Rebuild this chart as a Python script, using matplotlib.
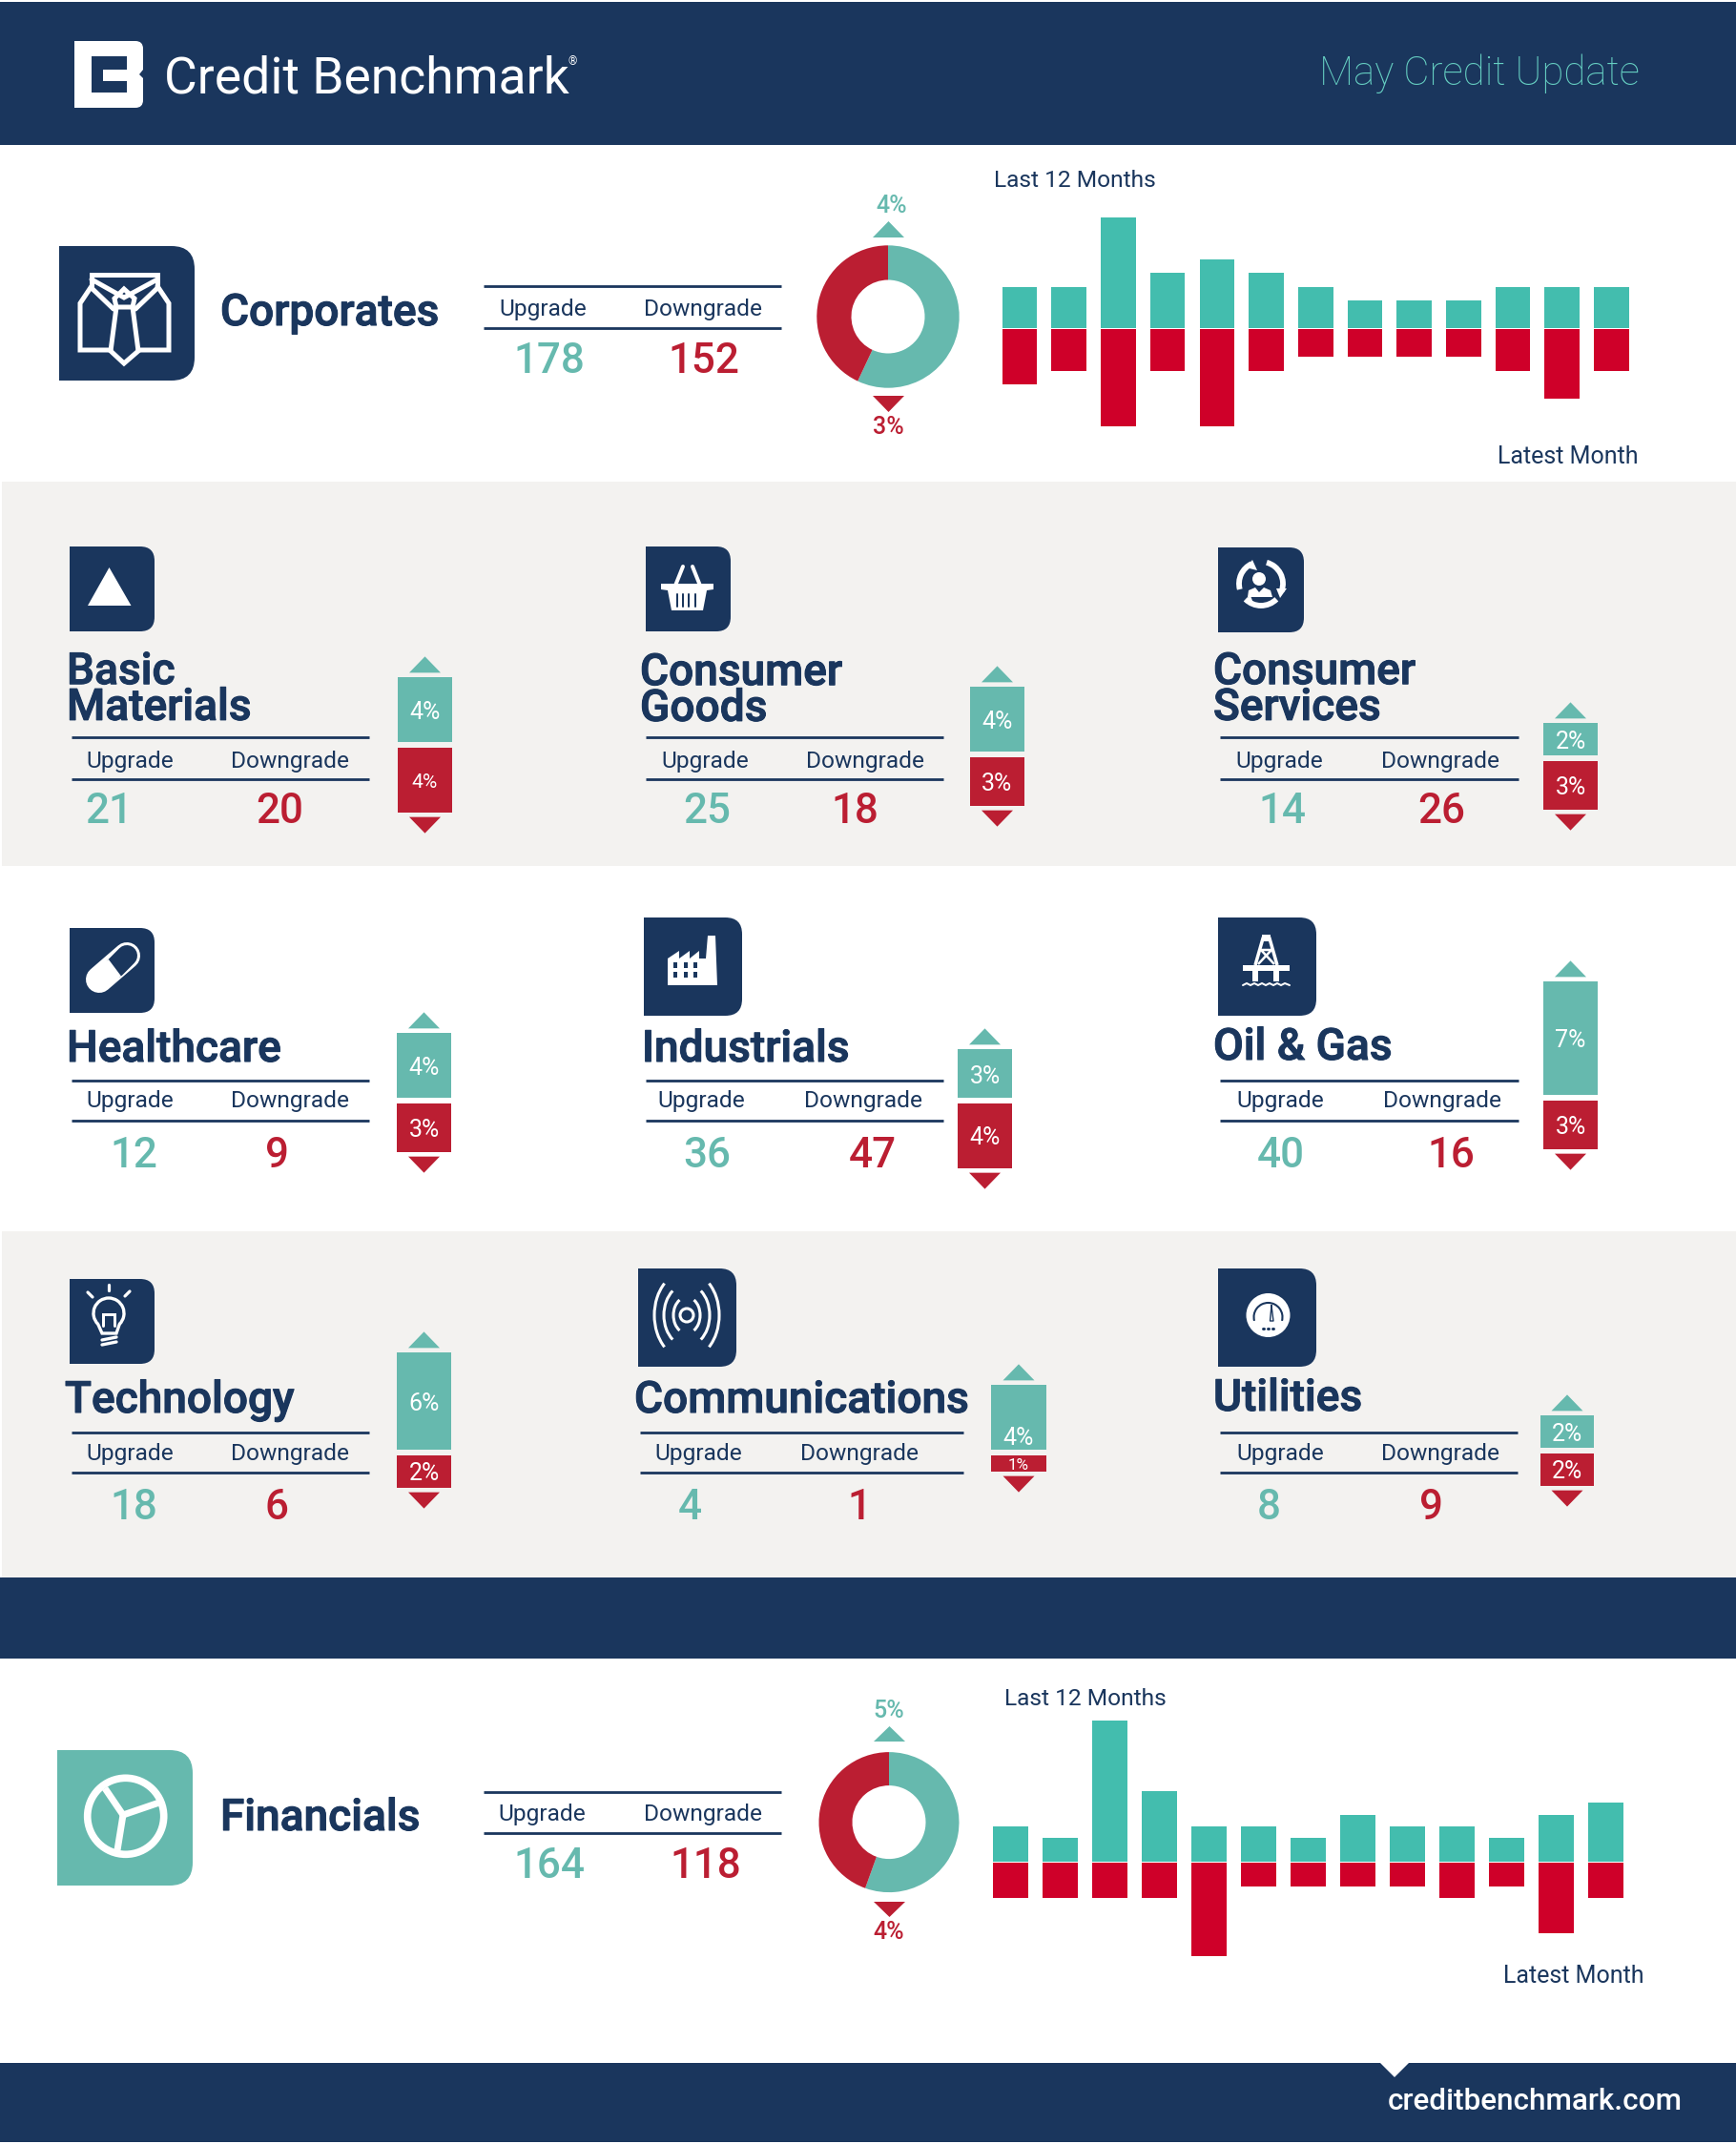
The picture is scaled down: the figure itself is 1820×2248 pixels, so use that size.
#!/usr/bin/env python

import matplotlib
matplotlib.use("Agg")
import matplotlib.pyplot as plt
import matplotlib.patheffects as pe
from matplotlib.patches import Rectangle, Polygon, PathPatch, Circle, Arc
from matplotlib.path import Path
import numpy as np

W, H = 1820, 2248
NAVY = "#1A365D"
TEAL = "#66B9AE"
RED = "#BB1E32"
BAR_TEAL = "#43BDAE"
BAR_RED = "#CF0029"
GREY = "#F3F2F0"

plt.rcParams["font.family"] = ["Roboto", "Noto Sans", "DejaVu Sans"]

# sector data
sectors = ["Basic\nMaterials", "Consumer\nGoods", "Consumer\nServices",
           "Healthcare", "Industrials", "Oil & Gas",
           "Technology", "Communications", "Utilities"]
upgrades = [21, 25, 14, 12, 36, 40, 18, 4, 8]
downgrades = [20, 18, 26, 9, 47, 16, 6, 1, 9]
up_pct = [4, 4, 2, 4, 3, 7, 6, 4, 2]
down_pct = [4, 3, 3, 3, 4, 3, 2, 1, 2]

# headline series
corp_up, corp_down = 178, 152
corp_share = [57, 43]
corp_up_pct, corp_down_pct = 4, 3
corp_hist_up = [3, 3, 8, 4, 5, 4, 3, 2, 2, 2, 3, 3, 3]
corp_hist_down = [4, 3, 7, 3, 7, 3, 2, 2, 2, 2, 3, 5, 3]

fin_up, fin_down = 164, 118
fin_share = [55.5, 44.5]
fin_up_pct, fin_down_pct = 5, 4
fin_hist_up = [3, 2, 12, 6, 3, 3, 2, 4, 3, 3, 2, 4, 5]
fin_hist_down = [3, 3, 3, 3, 8, 2, 2, 2, 2, 3, 2, 6, 3]

# layout of the sector blocks, in pixels
icon_boxes = [(73, 573, 162, 662), (677, 573, 766, 662), (1277, 574, 1367, 663),
              (73, 973, 162, 1062), (675, 962, 778, 1065), (1277, 962, 1380, 1065),
              (73, 1341, 162, 1430), (669, 1330, 772, 1433), (1277, 1330, 1380, 1433)]
title_x = [70, 671, 1272, 70, 673, 1272, 68, 665, 1272]
title_y = [723, 724, 723, 1100, 1100, 1098, 1468, 1468, 1466]
rule_x = [(75, 387), (677, 989), (1279, 1592), (75, 387), (677, 989), (1279, 1592),
          (75, 387), (671, 1010), (1279, 1591)]
rule_y = [(773, 817)] * 3 + [(1133, 1175)] * 3 + [(1502, 1544)] * 3
label_x = [(136, 304), (739, 907), (1341, 1510), (136, 304), (735, 905), (1342, 1512),
           (136, 304), (732, 901), (1342, 1510)]
value_x = [(114, 293), (741, 896), (1344, 1511), (140, 290), (741, 915), (1343, 1521),
           (140, 290), (723, 901), (1330, 1500)]
bar_x = [(417, 474), (1017, 1074), (1618, 1675), (416, 473), (1004, 1061), (1618, 1675),
         (416, 473), (1039, 1097), (1615, 1671)]
bar_zero = [781, 791, 795, 1154, 1154, 1151, 1523, 1523, 1521]
up_label_size = [25, 25, 25, 25, 25, 25, 25, 25, 25]
down_label_size = [21, 25, 25, 25, 25, 25, 25, 17, 25]
PCT_UNIT = 17.0

fig = plt.figure(figsize=(W / 100, H / 100), dpi=100)
fig.patch.set_facecolor("white")
bg = fig.add_axes([0, 0, 1, 1])
bg.set_xlim(0, W)
bg.set_ylim(H, 0)
bg.axis("off")

# fakes the semi-bold of the original headings
HEAVIER = [pe.withStroke(linewidth=0.8, foreground=NAVY)]


def px(size):
    return size * 0.72


def txt(x, y, s, size, color=NAVY, ha="center", weight="normal", **kw):
    # va center sits a little high for these fonts
    bg.text(x, y + 3, s, fontsize=px(size), color=color, ha=ha, va="center",
            fontweight=weight, **kw)


def band(y0, y1, color, x0=0):
    bg.add_patch(Rectangle((x0, y0), W - x0, y1 - y0, fc=color, ec="none", zorder=0))


def icon_box(x0, y0, x1, y1, color=NAVY):
    r = 0.17 * (x1 - x0)
    verts = [(x0, y0), (x1 - r, y0), (x1, y0), (x1, y0 + r), (x1, y1 - r), (x1, y1),
             (x1 - r, y1), (x0, y1), (x0, y0)]
    codes = [Path.MOVETO, Path.LINETO, Path.CURVE3, Path.CURVE3, Path.LINETO, Path.CURVE3,
             Path.CURVE3, Path.LINETO, Path.CLOSEPOLY]
    bg.add_patch(PathPatch(Path(verts, codes), fc=color, ec="none", zorder=1))


def stroke(points, lw=3.5, color="white", cap="round"):
    xs, ys = zip(*points)
    bg.plot(xs, ys, color=color, lw=lw * 0.72, solid_capstyle=cap, solid_joinstyle="miter", zorder=2)


def fill(points, color="white", z=2):
    bg.add_patch(Polygon(points, closed=True, fc=color, ec="none", zorder=z))


def table(x0, x1, y0, y1, lx, vx, ly, vy, up, down):
    bg.plot([x0, x1], [y0, y0], color=NAVY, lw=2, solid_capstyle="butt")
    bg.plot([x0, x1], [y1, y1], color=NAVY, lw=2, solid_capstyle="butt")
    txt(lx[0], ly - 1, "Upgrade", 24.5)
    txt(lx[1], ly - 1, "Downgrade", 24.5)
    txt(vx[0], vy + 1, str(up), 44, color=TEAL, weight="medium")
    txt(vx[1], vy + 1, str(down), 44, color=RED, weight="medium")


def draw_hist(x_first, step, width, zero, unit, top, bottom, ups, downs):
    # one axes per chart, spanning pixels from -top to +bottom units around the baseline
    left = x_first - step / 2
    wide = step * len(ups)
    y_top = zero - top * unit
    high = (top + bottom) * unit
    ax = fig.add_axes([left / W, 1 - (y_top + high) / H, wide / W, high / H])
    ax.set_xlim(-0.5, len(ups) - 0.5)
    ax.set_ylim(-bottom, top)
    ax.axis("off")
    pos = np.arange(len(ups))
    ax.bar(pos, ups, width=width / step, color=BAR_TEAL)
    ax.bar(pos, -np.array(downs), bottom=-0.08, width=width / step, color=BAR_RED)


def draw_donut(cx, cy, r_out, r_in, share):
    pad = r_out * 1.02
    ax = fig.add_axes([(cx - pad) / W, 1 - (cy + pad) / H, 2 * pad / W, 2 * pad / H])
    ax.pie(share, colors=[TEAL, RED], startangle=90, counterclock=False, radius=1 / 1.02,
           wedgeprops={"width": (r_out - r_in) / pad})
    ax.set_xlim(-1, 1)
    ax.set_ylim(-1, 1)


def draw_pct(i):
    x0, x1 = bar_x[i]
    zero = bar_zero[i]
    top = up_pct[i] + 1.6
    low = down_pct[i] + 1.6
    y_top = zero - top * PCT_UNIT
    high = (top + low) * PCT_UNIT
    ax = fig.add_axes([x0 / W, 1 - (y_top + high) / H, (x1 - x0) / W, high / H])
    ax.set_xlim(0, 1)
    ax.set_ylim(-low, top)
    ax.axis("off")
    gap = 0.15
    ax.bar(0.5, up_pct[i], bottom=gap, width=1, color=TEAL)
    ax.bar(0.5, -down_pct[i], bottom=-gap, width=1, color=RED)
    half = 16.5 / (x1 - x0)
    base = up_pct[i] + gap + 0.3
    ax.fill([0.5 - half, 0.5 + half, 0.5], [base, base, base + 1], color=TEAL, lw=0)
    base = -down_pct[i] - gap - 0.3
    ax.fill([0.5 - half, 0.5 + half, 0.5], [base, base, base - 1], color=RED, lw=0)
    nudge = 0.15
    up_y = gap + up_pct[i] / 2
    if sectors[i] == "Communications":
        up_y = gap + up_pct[i] * 0.22
    ax.text(0.5, up_y - nudge, f"{up_pct[i]}%", color="white", ha="center", va="center",
            fontsize=px(up_label_size[i]))
    ax.text(0.5, -gap - down_pct[i] / 2 - nudge, f"{down_pct[i]}%", color="white", ha="center", va="center",
            fontsize=px(down_label_size[i]))


# bands
band(2, 152, NAVY)
band(505, 908, GREY, x0=2)
band(1291, 1654, GREY, x0=2)
band(1654, 1739, NAVY)
band(2163, 2246, NAVY)
fill([(1447, 2163), (1477, 2163), (1462, 2178)])

# header logo
bg.add_patch(PathPatch(Path([(78, 43), (142, 43), (150, 43), (150, 51), (150, 73), (146, 78), (150, 82),
                             (150, 105), (150, 113), (142, 113), (78, 113), (78, 43)],
                            [Path.MOVETO, Path.LINETO, Path.CURVE3, Path.CURVE3, Path.LINETO, Path.LINETO,
                             Path.LINETO, Path.LINETO, Path.CURVE3, Path.CURVE3, Path.LINETO, Path.CLOSEPOLY]),
                       fc="white", ec="none", zorder=1))
fill([(96, 59), (133, 59), (133, 97), (96, 97)], NAVY)
fill([(108, 73), (133, 73), (133, 85), (108, 85)], "white", z=3)
txt(172, 80, "Credit Benchmark", 53.5, color="white", ha="left")
txt(600, 62, "®", 12, color="white")
txt(1719, 74, "May Credit Update", 42, color="#66CFC2", ha="right", weight="light")
txt(1764, 2201, "creditbenchmark.com", 31.5, color="white", ha="right", weight="medium")

# corporates block
icon_box(62, 258, 204, 399)
txt(231, 325, "Corporates", 46, ha="left", weight="medium", path_effects=HEAVIER)
table(507, 819, 300, 344, (569, 737), (576, 738), 323, 375, corp_up, corp_down)
draw_donut(931, 332, 74.7, 38.5, corp_share)
fill([(915, 249), (948, 249), (931.5, 232)], TEAL)
fill([(915, 415), (948, 415), (931.5, 432)], RED)
txt(935, 213, f"{corp_up_pct}%", 25, color=TEAL, weight="medium")
txt(931, 445, f"{corp_down_pct}%", 25, color=RED, weight="medium")
txt(1042, 187, "Last 12 Months", 24.5, ha="left")
txt(1718, 476, "Latest Month", 25, ha="right")
draw_hist(1069, 51.7, 36.6, 344, 14.5, 9, 8, corp_hist_up, corp_hist_down)

# financials block
icon_box(60, 1835, 202, 1977, TEAL)
txt(231, 1903, "Financials", 46, ha="left", weight="medium", path_effects=HEAVIER)
table(507, 819, 1879, 1922, (568, 737), (576, 740), 1900, 1953, fin_up, fin_down)
draw_donut(932, 1910.6, 73.5, 38.5, fin_share)
fill([(916, 1826), (949, 1826), (932.5, 1810)], TEAL)
fill([(916, 1994), (949, 1994), (932.5, 2010)], RED)
txt(932, 1791, f"{fin_up_pct}%", 25, color=TEAL, weight="medium")
txt(932, 2023, f"{fin_down_pct}%", 25, color=RED, weight="medium")
txt(1053, 1778, "Last 12 Months", 24.5, ha="left")
txt(1724, 2069, "Latest Month", 25, ha="right")
draw_hist(1059.5, 52, 36.6, 1952, 12.3, 13, 9, fin_hist_up, fin_hist_down)

# sector blocks
value_y = [847, 847, 847, 1208, 1208, 1208, 1577, 1577, 1577]
label_y = [796, 796, 796, 1153, 1153, 1153, 1523, 1523, 1523]
for i, name in enumerate(sectors):
    icon_box(*icon_boxes[i])
    bg.text(title_x[i], title_y[i], name, fontsize=px(46), color=NAVY, fontweight="medium", ha="left",
            va="center", linespacing=0.82, path_effects=HEAVIER)
    table(rule_x[i][0], rule_x[i][1], rule_y[i][0], rule_y[i][1], label_x[i], value_x[i],
          label_y[i], value_y[i], upgrades[i], downgrades[i])
    draw_pct(i)

# icons
# corporates shirt
stroke([(96, 300), (84, 318), (84, 367), (116, 367)], 5)
stroke([(165, 300), (177, 318), (177, 367), (145, 367)], 5)
stroke([(96, 302), (96, 288), (165, 288), (165, 302)], 5)
stroke([(96, 293), (130, 312), (165, 293)], 5)
stroke([(96, 302), (119, 324)], 5)
stroke([(165, 302), (142, 324)], 5)
stroke([(122, 322), (116, 368), (130, 381), (145, 368), (139, 322)], 5)
stroke([(122, 322), (120, 313), (130, 303), (141, 313), (139, 322), (122, 322)], 5)
# basic materials
fill([(92, 635), (114.5, 595), (137.5, 635)])
# consumer goods basket
fill([(693, 612), (748, 612), (748, 618), (741, 619), (737, 640), (704, 640), (700, 619), (693, 618)])
stroke([(708, 614), (716, 594)], 4)
stroke([(726, 594), (734, 614)], 4)
for sx in [710, 716, 722, 729]:
    stroke([(sx, 623), (sx, 636)], 2, NAVY)
# consumer services
bg.add_patch(Circle((1320, 607), 7, fc="white", ec="none", zorder=2))
fill([(1308, 626), (1309, 619), (1316, 616), (1320, 621), (1325, 616), (1332, 619), (1334, 626)])
for a0, a1 in [(165, 245), (285, 380), (45, 135)]:
    bg.add_patch(Arc((1322, 612), 46, 46, theta1=a0, theta2=a1, color="white", lw=4.2, zorder=2))
fill([(1306, 595), (1313, 587), (1318, 598)])
fill([(1338, 617), (1349, 617), (1342, 627)])
fill([(1310, 622), (1306, 632), (1315, 635)])
# healthcare capsule
stroke([(104, 1027), (133, 1002)], 28)
stroke([(120.4, 1014.7), (133, 1002)], 22, NAVY)
stroke([(104, 1027), (120.4, 1014.7)], 22, cap="butt")
# industrials
fill([(700, 1033), (700, 1005), (712, 997), (712, 1005), (723, 997), (723, 1005), (733, 997), (733, 1005),
      (740, 1005), (742, 981), (750, 981), (752, 1033)])
for wy in [1012, 1022]:
    for wx in [708, 719, 729]:
        stroke([(wx, wy - 3), (wx, wy + 3)], 4, NAVY, cap="butt")
# oil and gas rig
fill([(1323, 980), (1332, 980), (1332, 987), (1323, 987)])
stroke([(1316, 1012), (1324, 984), (1331, 984), (1339, 1012)], 3.5, cap="butt")
stroke([(1319, 1011), (1333, 996), (1322, 996), (1336, 1011)], 2.5, cap="butt")
fill([(1303, 1012), (1352, 1012), (1352, 1018), (1303, 1018)])
for lx in [1316, 1338]:
    stroke([(lx, 1018), (lx, 1029)], 6, cap="butt")
stroke([(1303, 1033), (1307, 1031), (1311, 1033), (1315, 1031), (1319, 1033), (1323, 1031), (1327, 1033),
        (1331, 1031), (1335, 1033), (1339, 1031), (1343, 1033), (1347, 1031), (1352, 1033)], 2)
# technology bulb
bg.add_patch(Arc((114, 1377), 32, 32, theta1=135, theta2=45, color="white", lw=2.4, zorder=2))
stroke([(102.7, 1388.3), (107, 1398), (122, 1398), (125.3, 1388.3)], 3.3)
stroke([(108, 1390), (108, 1378), (120, 1378), (120, 1390)], 3)
stroke([(107, 1405), (122, 1402)], 3.3)
stroke([(107, 1410), (122, 1407)], 3.3)
for a in [(114, 1353, 114, 1347), (97, 1360, 92, 1355), (131, 1359, 136, 1354)]:
    stroke([(a[0], a[1]), (a[2], a[3])], 3.2)
# communications
bg.add_patch(Circle((720, 1379), 7, fc="none", ec="white", lw=2.2, zorder=2))
for d, span in [(28, 65), (48, 60), (68, 55)]:
    bg.add_patch(Arc((720, 1379), d, d * 1.35, theta1=-span, theta2=span, color="white", lw=2.2, zorder=2))
    bg.add_patch(Arc((720, 1379), d, d * 1.35, theta1=180 - span, theta2=180 + span, color="white", lw=2.2, zorder=2))
# utilities gauge
bg.add_patch(Circle((1329.5, 1379), 23, fc="white", ec="none", zorder=2))
bg.add_patch(Arc((1329.5, 1381), 30, 30, theta1=165, theta2=15, color=NAVY, lw=1.5, zorder=3))
bg.plot([1333, 1331.5, 1335, 1333], [1369, 1385, 1385, 1369], color=NAVY, lw=1, zorder=3)
stroke([(1324, 1393), (1325, 1393)], 3, NAVY)
stroke([(1329, 1393), (1330, 1393)], 3, NAVY)
stroke([(1334, 1393), (1335, 1393)], 3, NAVY)
# financials pie icon
bg.add_patch(Circle((131.7, 1904.3), 40, fc="none", ec="white", lw=5.5, zorder=2))
stroke([(129, 1903), (110, 1875)], 7, cap="butt")
stroke([(129, 1903), (167, 1890)], 7, cap="butt")
stroke([(129, 1903), (123, 1940)], 7, cap="butt")

plt.savefig("out.png", dpi=100)
plt.close()
